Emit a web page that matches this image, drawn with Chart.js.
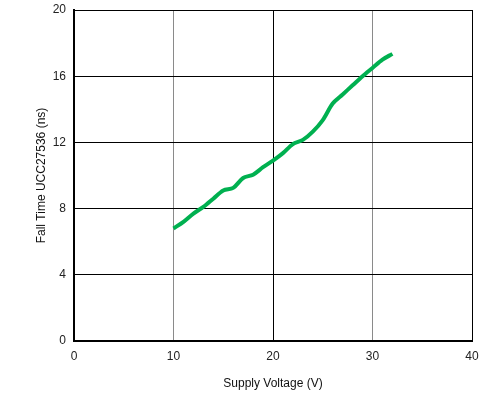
<!DOCTYPE html>
<html lang="en">
<head>
    <meta charset="UTF-8">
    <title>Fall Time vs Supply Voltage</title>
    <style>
        body { margin: 0; background: #fff; }
        #wrap { width: 489px; height: 401px; }
    </style>
</head>
<body>
    <div id="wrap"><canvas id="chart"></canvas></div>

    <script src="https://cdn.jsdelivr.net/npm/chart.js"></script>
    <script>
        // values
        const voltage = [10, 11, 12, 13, 14, 15, 16, 17, 18, 19, 20, 21, 22, 23, 24, 25, 26, 27, 28, 29, 30, 31, 32];
        const fallTime = [6.8, 7.2, 7.7, 8.1, 8.6, 9.1, 9.25, 9.85, 10.05, 10.5, 10.9, 11.35, 11.9, 12.15, 12.65, 13.35, 14.35, 14.9, 15.45, 16.0, 16.5, 17.0, 17.35];
        const xTicks = [0, 10, 20, 30, 40];
        const yTicks = [0, 4, 8, 12, 16, 20];

        const font = { family: 'Liberation Sans, Arial, sans-serif', size: 12 };

        new Chart(document.getElementById('chart'), {
            type: 'line',
            data: {
                datasets: [{
                    data: voltage.map((v, i) => ({ x: v, y: fallTime[i] })),
                    borderColor: '#00b050',
                    borderWidth: 4,
                    pointRadius: 0,
                    tension: 0.3,
                    fill: false
                }]
            },
            options: {
                responsive: true,
                maintainAspectRatio: false,
                animation: false,
                layout: { padding: { left: 30, top: 10, right: 17, bottom: 8 } },
                plugins: { legend: { display: false }, tooltip: { enabled: false } },
                scales: {
                    x: {
                        type: 'linear',
                        min: 0, max: 40,
                        afterBuildTicks: s => { s.ticks = xTicks.map(v => ({ value: v })); },
                        afterFit: s => { s.height = 52; s.paddingLeft = 0; s.paddingRight = 0; },
                        grid: {
                            color: c => (c.tick && (c.tick.value === 10 || c.tick.value === 30)) ? '#8a8a8a' : '#000',
                            drawTicks: false
                        },
                        border: { color: '#000', width: 2 },
                        ticks: { color: '#222', font: font, padding: 8, maxRotation: 0 },
                        title: { display: true, text: 'Supply Voltage (V)', color: '#111', font: font, padding: { top: 4, bottom: 2 } }
                    },
                    y: {
                        min: 0, max: 20,
                        afterBuildTicks: s => { s.ticks = yTicks.map(v => ({ value: v })); },
                        afterFit: s => { s.width = 44; s.paddingTop = 0; s.paddingBottom = 0; },
                        grid: { color: '#000', drawTicks: false },
                        border: { color: '#000', width: 2 },
                        ticks: { color: '#222', font: font, padding: 8 },
                        title: { display: true, text: 'Fall Time UCC27536 (ns)', color: '#111', font: font, padding: { top: 4, bottom: 4 } }
                    }
                }
            }
        });
    </script>
</body>
</html>
